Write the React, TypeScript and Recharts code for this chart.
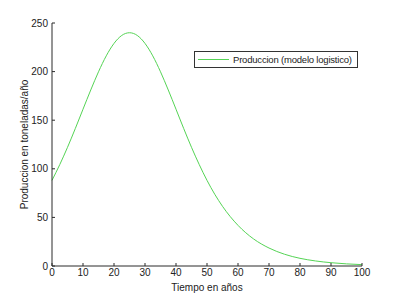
import React from 'react';
import { LineChart, Line, XAxis, YAxis } from 'recharts';

const years = [0, 2.5, 5, 7.5, 10, 12.5, 15, 17.5, 20, 22.5, 25, 27.5, 30, 32.5, 35, 37.5, 40, 42.5, 45, 47.5, 50, 52.5, 55, 60, 65, 70, 75, 80, 85, 90, 95, 100];
const production = [88.1, 104.3, 122.1, 141.3, 161.3, 181.1, 199.8, 216.2, 229.0, 237.2, 240.0, 237.2, 229.0, 216.2, 199.8, 181.1, 161.3, 141.3, 122.1, 104.3, 88.1, 73.8, 61.4, 41.8, 27.9, 18.5, 12.1, 7.9, 5.2, 3.4, 2.2, 1.4];
const xTicks = [0, 10, 20, 30, 40, 50, 60, 70, 80, 90, 100];
const yTicks = [0, 50, 100, 150, 200, 250];
const seriesName = 'Produccion (modelo logistico)';

const data = years.map((t, i) => ({ t, p: production[i] }));

const font = '"Liberation Sans", Arial, sans-serif';
const axisColor = '#2a2a2a';
const lineColor = '#55d455';

const LegendBox = () => (
  <div
    style={{
      position: 'absolute',
      left: 194,
      top: 51,
      width: 164,
      height: 17,
      boxSizing: 'border-box',
      border: '1px solid #333',
      background: '#fff',
      fontFamily: font,
      fontSize: 9.5,
      letterSpacing: -0.2,
      color: '#222',
      display: 'flex',
      alignItems: 'center',
      whiteSpace: 'nowrap',
    }}
  >
    <div style={{ width: 31, height: 1, background: lineColor, marginLeft: 3, marginRight: 4, flex: 'none' }} />
    <span>{seriesName}</span>
  </div>
);

export default function App() {
  return (
    <div style={{ position: 'absolute', left: 0, top: 0, width: 400, height: 299, background: '#fff' }}>
      <LineChart
        width={400}
        height={299}
        data={data}
        margin={{ top: 23, right: 38, bottom: 13, left: 12 }}
      >
        <XAxis
          dataKey="t"
          type="number"
          domain={[0, 100]}
          ticks={xTicks}
          interval={0}
          height={20}
          stroke={axisColor}
          tickSize={-3}
          tickMargin={6}
          tick={{ fill: '#222', fontSize: 10, fontFamily: font }}
          label={{ value: 'Tiempo en años', position: 'bottom', offset: -2, fill: '#222', fontSize: 10, fontFamily: font }}
        />
        <YAxis
          type="number"
          domain={[0, 250]}
          ticks={yTicks}
          interval={0}
          width={40}
          stroke={axisColor}
          tickSize={-3}
          tickMargin={7}
          tick={{ fill: '#222', fontSize: 10, fontFamily: font }}
          label={{ value: 'Produccion en toneladas/año', angle: -90, position: 'insideLeft', offset: 0, dx: 12, style: { textAnchor: 'middle' }, fill: '#222', fontSize: 10, fontFamily: font }}
        />
        <Line
          type="monotone"
          dataKey="p"
          name={seriesName}
          stroke={lineColor}
          strokeWidth={1}
          dot={false}
          isAnimationActive={false}
        />
      </LineChart>
      <LegendBox />
    </div>
  );
}
